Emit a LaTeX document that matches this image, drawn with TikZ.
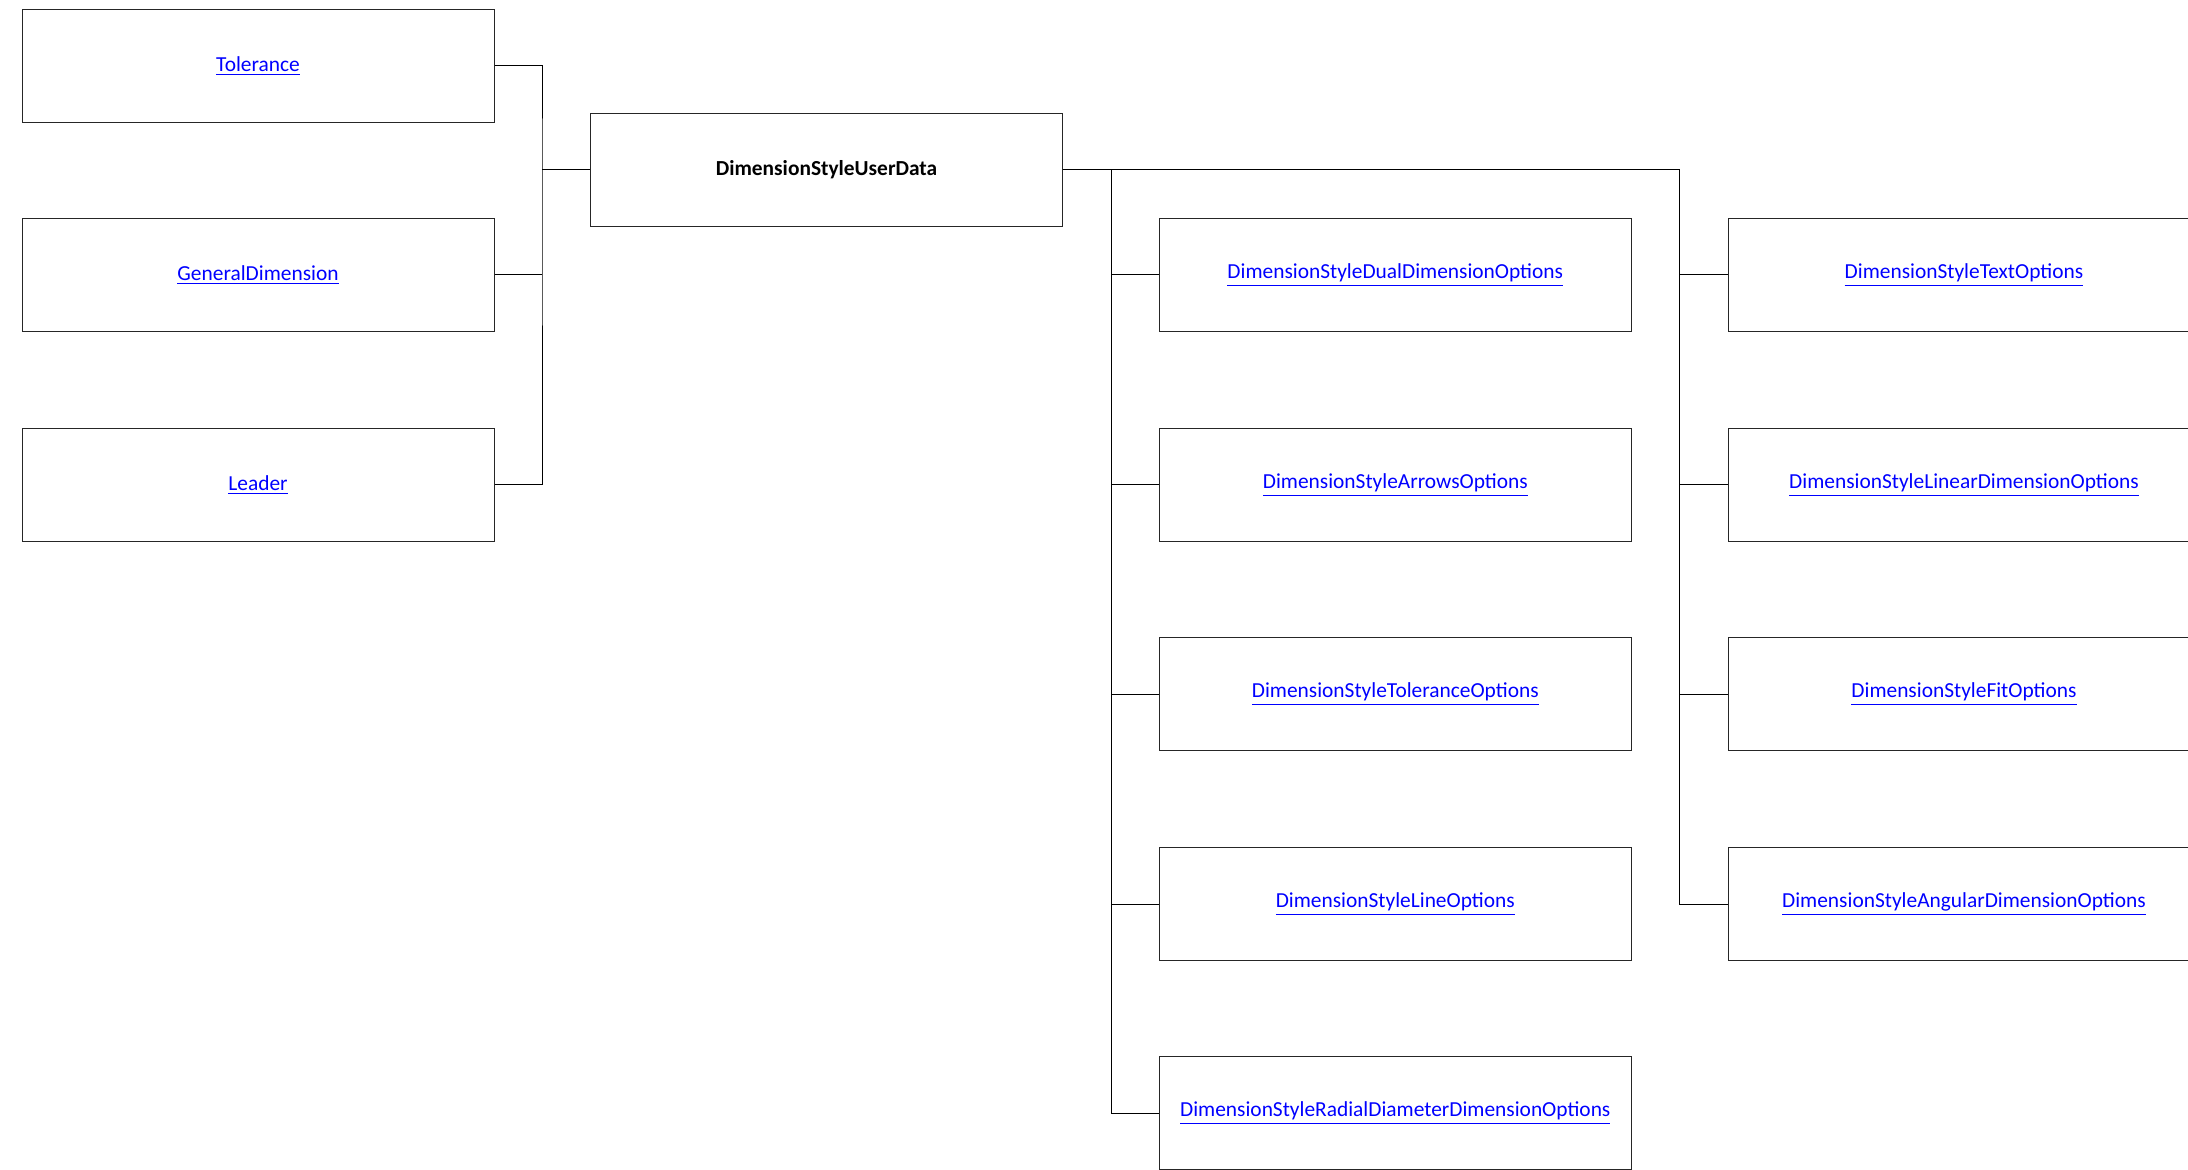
\documentclass[tikz,border=0pt]{standalone}
\usepackage{fontspec}
\setmainfont{Carlito}
\begin{document}
\begin{tikzpicture}[x=0.5pt,y=-0.5pt,
  box/.style={draw=black!85,line width=0.5pt,rectangle,minimum width=236pt,minimum height=56.5pt,inner sep=0pt,font=\fontsize{10.7}{12}\selectfont},
  lnk/.style={box,text=blue},
  conn/.style={draw=black,line width=0.5pt}]
\useasboundingbox (0,0) rectangle (2188,1170);
\clip (0,0) rectangle (2188,1170);
% left column
\node[lnk] (tol) at (258,66) {\underline{Tolerance}};
\node[lnk] (gen) at (258,275) {\underline{GeneralDimension}};
\node[lnk] (lead) at (258,485) {\underline{Leader}};
% root
\node[box,font=\fontsize{10.7}{12}\selectfont\bfseries] (root) at (826.5,170) {DimensionStyleUserData};
% middle column
\node[lnk] (m1) at (1395.3,275) {\underline{DimensionStyleDualDimensionOptions}};
\node[lnk] (m2) at (1395.3,485) {\underline{DimensionStyleArrowsOptions}};
\node[lnk] (m3) at (1395.3,694) {\underline{DimensionStyleToleranceOptions}};
\node[lnk] (m4) at (1395.3,904) {\underline{DimensionStyleLineOptions}};
\node[lnk] (m5) at (1395.3,1113) {\underline{DimensionStyleRadialDiameterDimensionOptions}};
% right column
\node[lnk] (r1) at (1964,275) {\underline{DimensionStyleTextOptions}};
\node[lnk] (r2) at (1964,485) {\underline{DimensionStyleLinearDimensionOptions}};
\node[lnk] (r3) at (1964,694) {\underline{DimensionStyleFitOptions}};
\node[lnk] (r4) at (1964,904) {\underline{DimensionStyleAngularDimensionOptions}};
% junctions
\coordinate (lj) at (542,170);
\coordinate (mj) at (1111,170);
\coordinate (rj) at (1679,170);
% connectors left
\draw[conn] (root.west) -- (lj);
\draw[conn] (tol.east) -| (lj) |- (lead.east);
\draw[conn] (gen.east) -- (gen.east -| lj);
% connectors right
\draw[conn] (root.east) -- (rj) |- (r4.west);
\draw[conn] (mj) |- (m5.west);
\draw[conn] (m1.west) -- (m1.west -| mj);
\draw[conn] (m2.west) -- (m2.west -| mj);
\draw[conn] (m3.west) -- (m3.west -| mj);
\draw[conn] (m4.west) -- (m4.west -| mj);
\draw[conn] (r1.west) -- (r1.west -| rj);
\draw[conn] (r2.west) -- (r2.west -| rj);
\draw[conn] (r3.west) -- (r3.west -| rj);
\end{tikzpicture}
\end{document}
